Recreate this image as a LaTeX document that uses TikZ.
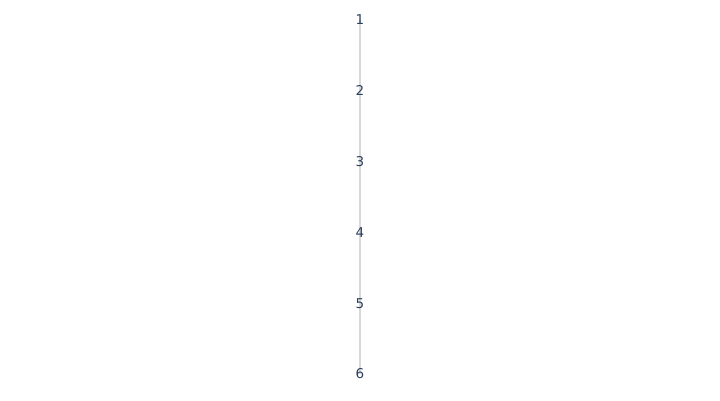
\documentclass[tikz,border=0pt]{standalone}
\usepackage{fontspec}
\setmainfont{DejaVu Sans}
\usetikzlibrary{backgrounds}
\definecolor{TICK}{HTML}{2A3F5F}
\definecolor{AXIS}{HTML}{D8D8D8}
\tikzstyle{tick} = [text=TICK, font=\fontsize{13.5}{15}\selectfont, inner sep=1pt]
\tikzstyle{axisline} = [draw=AXIS, line width=2pt]
\begin{document}
\begin{tikzpicture}[node distance=70.8pt]
\useasboundingbox (0,0) rectangle (720pt,-400pt);

\node (t1) [tick] at (360pt,-20pt) {1};
\node (t2) [tick, below of=t1] {2};
\node (t3) [tick, below of=t2] {3};
\node (t4) [tick, below of=t3] {4};
\node (t5) [tick, below of=t4] {5};
\node (t6) [tick, below of=t5] {6};

\begin{scope}[on background layer]
\draw [axisline] (t1.center) -- (t6.center);
\end{scope}

\end{tikzpicture}
\end{document}
